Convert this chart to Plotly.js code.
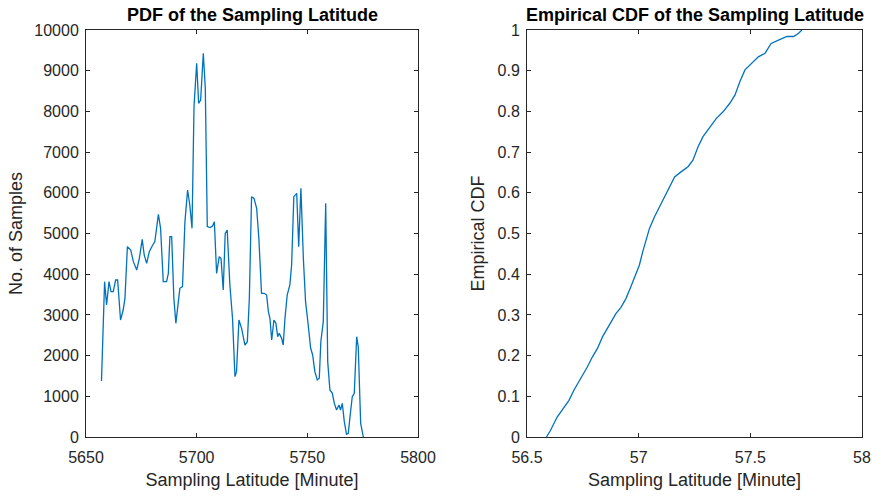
<!DOCTYPE html>
<html>
<head>
<meta charset="utf-8">
<script src="https://cdn.plot.ly/plotly-3.0.1.min.js"></script>
<style>
  html, body { margin: 0; padding: 0; background: #fff; }
  #chart { width: 872px; height: 496px; }
</style>
</head>
<body>
<div id="chart"></div>
<script>
// Histogram of sampling latitude (minutes) and sample counts
const latMinutes = [5657.0, 5658.4, 5659.3, 5660.4, 5661.3, 5662.3, 5663.4, 5664.3, 5665.6, 5666.8,
  5667.6, 5668.7, 5670.2, 5671.4, 5672.9, 5674.1, 5675.4, 5676.3, 5677.4, 5678.6,
  5679.9, 5681.1, 5682.7, 5683.7, 5684.9, 5686.4, 5687.2, 5687.9, 5688.7, 5689.7,
  5690.6, 5691.7, 5692.4, 5693.6, 5694.7, 5695.9, 5696.9, 5697.9, 5698.8, 5700.0,
  5700.9, 5701.8, 5703.0, 5703.9, 5704.8, 5706.0, 5707.2, 5708.0, 5709.0, 5710.2,
  5711.0, 5712.0, 5712.9, 5713.8, 5715.0, 5716.2, 5717.3, 5718.0, 5719.1, 5720.3,
  5721.8, 5722.9, 5723.8, 5724.8, 5725.9, 5727.1, 5728.1, 5729.3, 5730.5, 5731.6,
  5732.4, 5733.1, 5733.9, 5734.9, 5735.8, 5736.6, 5737.3, 5738.4, 5739.1, 5739.9,
  5740.9, 5742.1, 5742.9, 5743.9, 5745.2, 5746.1, 5747.1, 5748.2, 5749.2, 5750.4,
  5751.5, 5752.4, 5753.4, 5754.5, 5755.4, 5756.1, 5757.2, 5758.3, 5759.2, 5760.2,
  5761.3, 5762.2, 5763.2, 5764.3, 5765.0, 5765.8, 5766.7, 5767.7, 5768.5, 5769.2,
  5770.3, 5771.2, 5772.3, 5773.0, 5774.1, 5775.3];
const sampleCounts = [1376, 3817, 3244, 3817, 3571, 3571, 3858, 3858, 2875, 3120,
  3407, 4677, 4595, 4308, 4103, 4390, 4857, 4472, 4267, 4554,
  4693, 4800, 5471, 5127, 3817, 3817, 4021, 4923, 4923, 3407,
  2793, 3325, 3653, 3694, 5291, 6069, 5701, 5127, 8117, 9181,
  8198, 8280, 9427, 8567, 5168, 5144, 5185, 5291, 4021, 4431,
  4390, 3612, 5004, 5086, 3735, 2916, 1483, 1606, 2875, 2670,
  2260, 2342, 3407, 5905, 5864, 5619, 4881, 3530, 3530, 3489,
  3080, 2916, 2383, 2875, 2793, 2465, 2547, 2424, 2260, 2916,
  3489, 3735, 4226, 5905, 5987, 4677, 6110, 4390, 3325, 2752,
  2179, 2015, 1606, 1401, 1442, 2342, 2834, 5742, 1851, 1155,
  1073, 827, 663, 786, 663, 827, 377, 66, 90, 459,
  991, 1073, 2465, 2219, 336, 0];

// Empirical CDF of sampling latitude (degrees)
const latDegrees = [56.587, 56.605, 56.635, 56.665, 56.688, 56.710, 56.740, 56.770, 56.793, 56.815,
  56.838, 56.860, 56.883, 56.898, 56.920, 56.943, 56.965, 56.983, 57.003, 57.018,
  57.033, 57.048, 57.071, 57.093, 57.116, 57.138, 57.161, 57.191, 57.221, 57.243,
  57.266, 57.288, 57.318, 57.348, 57.378, 57.408, 57.431, 57.453, 57.476, 57.506,
  57.536, 57.566, 57.593, 57.626, 57.664, 57.694, 57.716, 57.731];
const cdfValues = [0, 0.016, 0.049, 0.074, 0.090, 0.115, 0.143, 0.172, 0.197, 0.217,
  0.246, 0.266, 0.287, 0.303, 0.318, 0.340, 0.369, 0.393, 0.422, 0.455,
  0.484, 0.512, 0.541, 0.566, 0.590, 0.615, 0.639, 0.652, 0.664, 0.680,
  0.713, 0.738, 0.762, 0.783, 0.799, 0.820, 0.840, 0.873, 0.902, 0.918,
  0.934, 0.943, 0.967, 0.975, 0.984, 0.984, 0.992, 1.0];

const pdfTickVals = [0, 1000, 2000, 3000, 4000, 5000, 6000, 7000, 8000, 9000, 10000];
const pdfTickText = ['0', '1000', '2000', '3000', '4000', '5000', '6000', '7000', '8000', '9000', '10000'];
const pdfXTicks = [5650, 5700, 5750, 5800];
const pdfXText = ['5650', '5700', '5750', '5800'];
const cdfTickVals = [0, 0.1, 0.2, 0.3, 0.4, 0.5, 0.6, 0.7, 0.8, 0.9, 1];
const cdfTickText = ['0', '0.1', '0.2', '0.3', '0.4', '0.5', '0.6', '0.7', '0.8', '0.9', '1'];
const cdfXTicks = [56.5, 57, 57.5, 58];
const cdfXText = ['56.5', '57', '57.5', '58'];

const lineColor = '#0072BD';
const axisColor = '#262626';
const fontFam = '"Liberation Sans", Arial, sans-serif';

const W = 872, H = 496;
const plotTop = 30, plotBottom = 437;
const yDom = [1 - plotBottom / H, 1 - plotTop / H];

function axisBase() {
  return {
    showline: true, linecolor: axisColor, linewidth: 1,
    mirror: 'ticks', ticks: 'inside', ticklen: 4, tickcolor: axisColor,
    showgrid: false, zeroline: false, fixedrange: true,
    tickfont: { family: fontFam, size: 16, color: axisColor }
  };
}

const axisTitleFont = { family: fontFam, size: 18, color: axisColor };

const traces = [
  { x: latMinutes, y: sampleCounts, type: 'scatter', mode: 'lines',
    line: { color: lineColor, width: 1.3 }, xaxis: 'x', yaxis: 'y', hoverinfo: 'x+y' },
  { x: latDegrees, y: cdfValues, type: 'scatter', mode: 'lines',
    line: { color: lineColor, width: 1.3 }, xaxis: 'x2', yaxis: 'y2', hoverinfo: 'x+y' }
];

const layout = {
  width: W, height: H,
  margin: { l: 0, r: 0, t: 0, b: 0 },
  paper_bgcolor: '#fff', plot_bgcolor: '#fff',
  showlegend: false,
  font: { family: fontFam, color: axisColor },
  xaxis: Object.assign(axisBase(), {
    domain: [86 / W, 418 / W], range: [5650, 5800],
    tickvals: pdfXTicks, ticktext: pdfXText, anchor: 'y', ticklabelstandoff: 6,
    title: { text: 'Sampling Latitude [Minute]', font: axisTitleFont, standoff: 8 }
  }),
  yaxis: Object.assign(axisBase(), {
    domain: yDom, range: [0, 10000],
    tickvals: pdfTickVals, ticktext: pdfTickText, anchor: 'x', ticklabelstandoff: 3,
    title: { text: 'No. of Samples', font: axisTitleFont, standoff: 6 }
  }),
  xaxis2: Object.assign(axisBase(), {
    domain: [527 / W, 862 / W], range: [56.5, 58],
    tickvals: cdfXTicks, ticktext: cdfXText, anchor: 'y2', ticklabelstandoff: 6,
    title: { text: 'Sampling Latitude [Minute]', font: axisTitleFont, standoff: 8 }
  }),
  yaxis2: Object.assign(axisBase(), {
    domain: yDom, range: [0, 1],
    tickvals: cdfTickVals, ticktext: cdfTickText, anchor: 'x2', ticklabelstandoff: 3,
    title: { text: 'Empirical CDF', font: axisTitleFont, standoff: 8 }
  }),
  annotations: [
    { text: '<b>PDF of the Sampling Latitude</b>', xref: 'paper', yref: 'paper',
      x: (86 + 418) / 2 / W, y: 1 - 15 / H, xanchor: 'center', yanchor: 'middle', showarrow: false,
      font: { family: fontFam, size: 18, color: '#000' } },
    { text: '<b>Empirical CDF of the Sampling Latitude</b>', xref: 'paper', yref: 'paper',
      x: (527 + 862) / 2 / W, y: 1 - 15 / H, xanchor: 'center', yanchor: 'middle', showarrow: false,
      font: { family: fontFam, size: 18, color: '#000' } }
  ]
};

Plotly.newPlot('chart', traces, layout, { displayModeBar: false, staticPlot: true });
</script>
</body>
</html>
